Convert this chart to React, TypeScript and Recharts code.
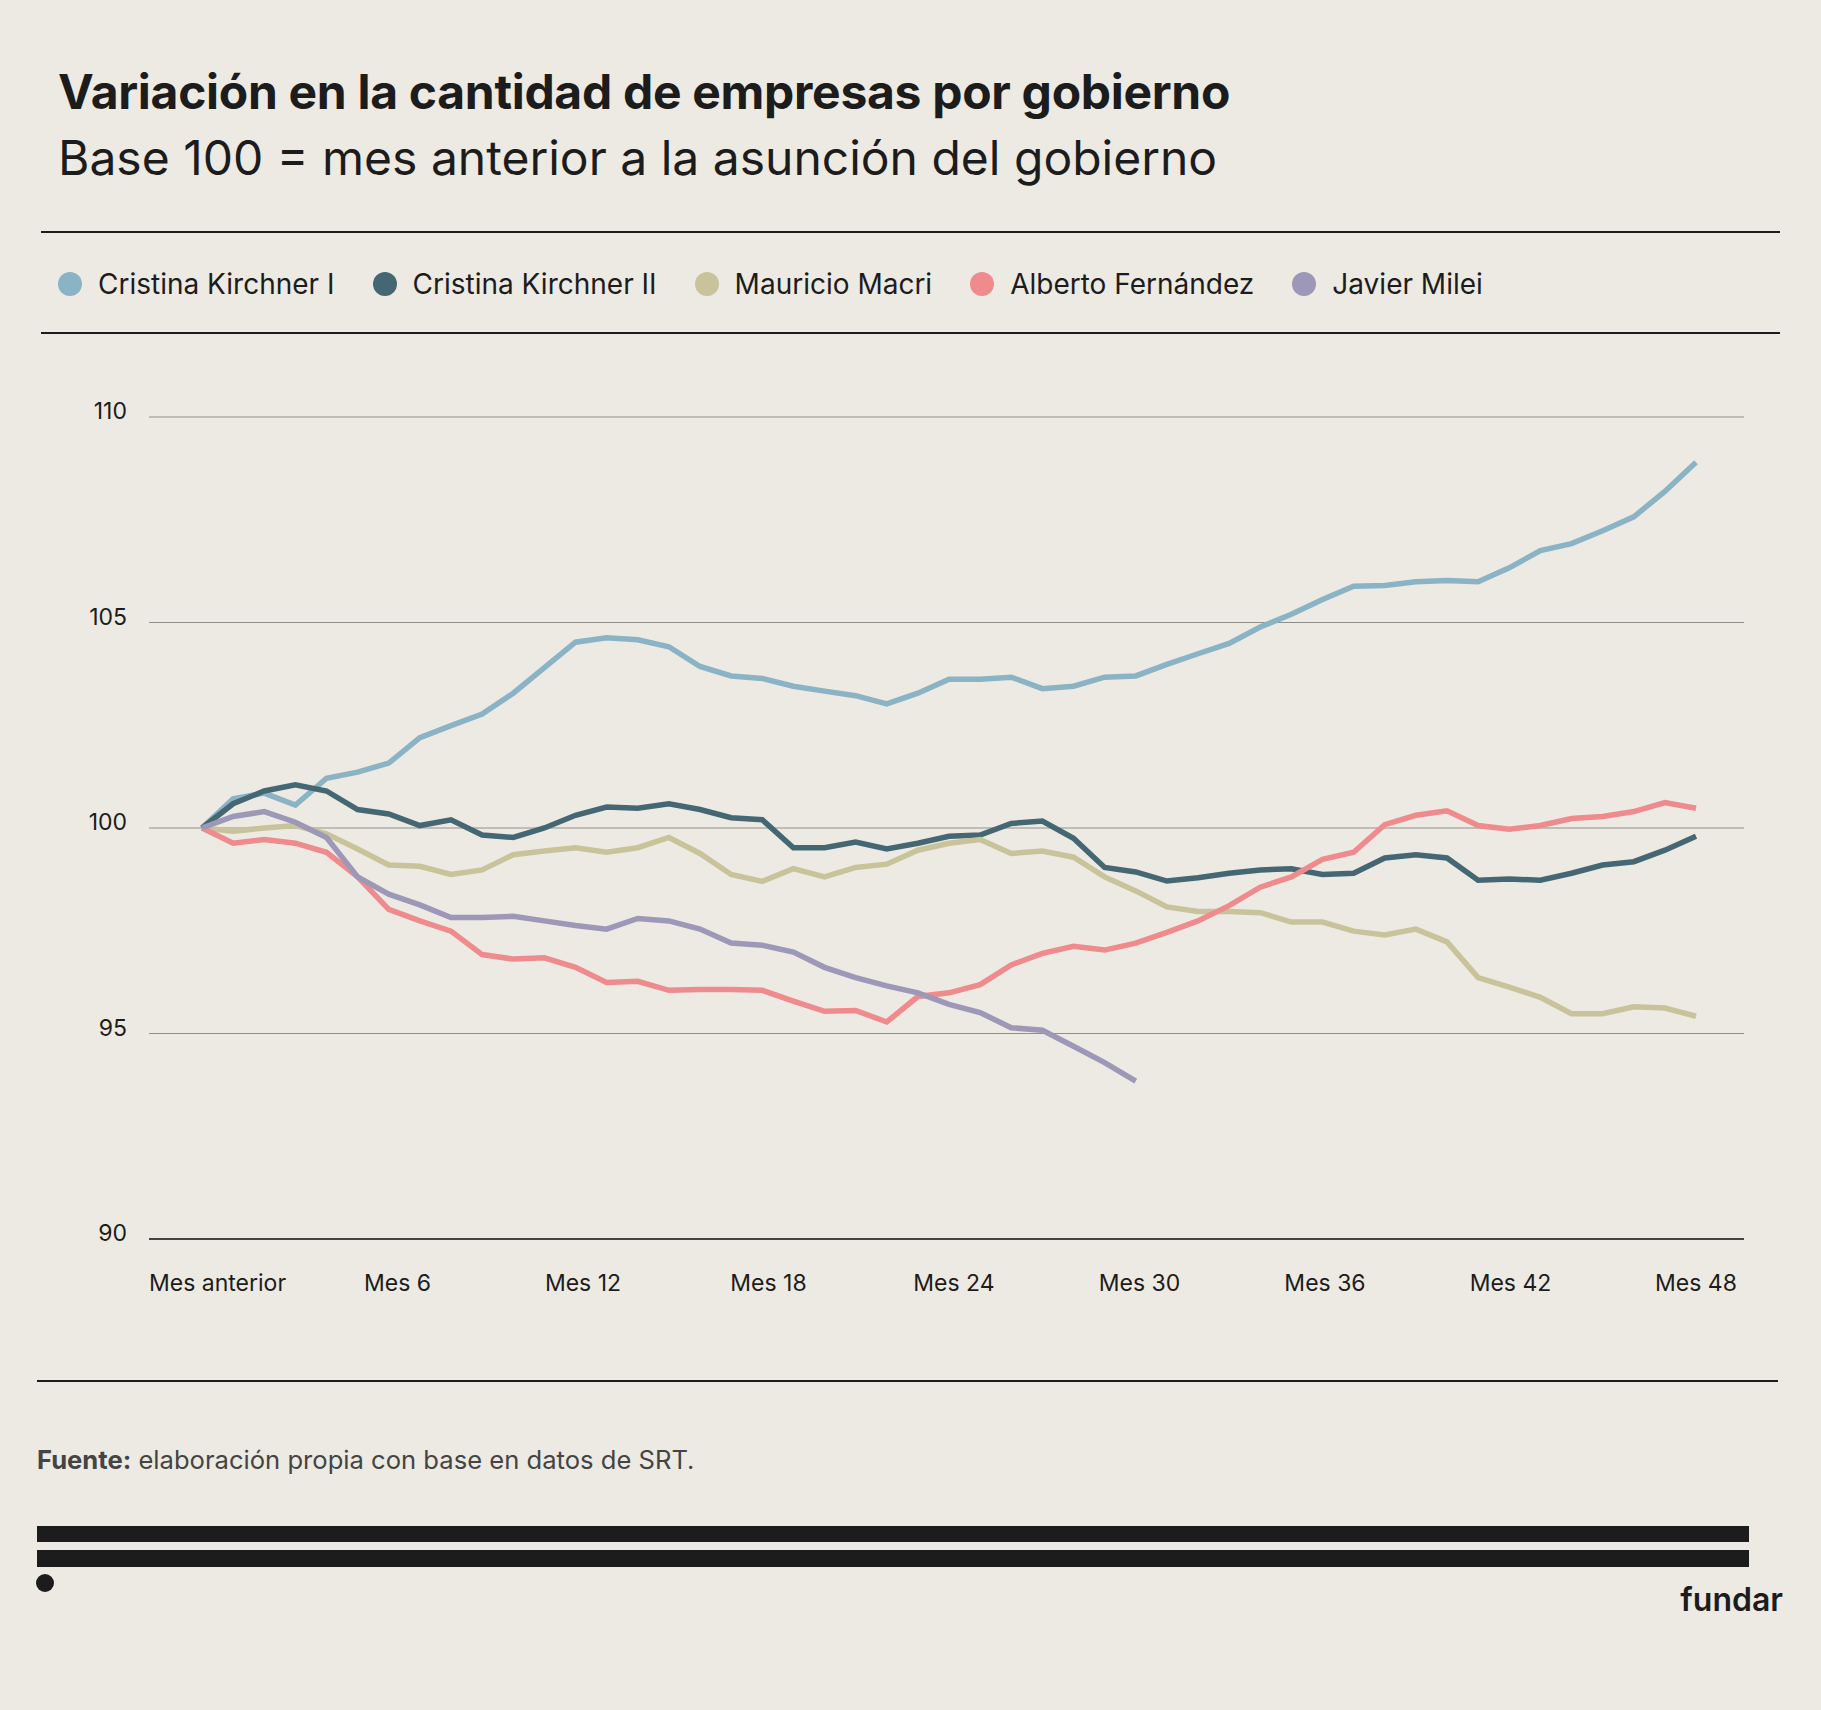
import { LineChart, Line, XAxis, YAxis, CartesianGrid, ReferenceLine } from "recharts"

const months = Array.from({ length: 49 }, (_, i) => i)

const ck1 = [100, 100.71, 100.85, 100.56, 101.21, 101.36, 101.58, 102.2, 102.49, 102.77, 103.28, 103.9, 104.52, 104.63, 104.58, 104.41, 103.93, 103.7, 103.64, 103.45, 103.33, 103.22, 103.02, 103.28, 103.62, 103.62, 103.67, 103.39, 103.45, 103.67, 103.7, 103.98, 104.24, 104.49, 104.89, 105.2, 105.56, 105.88, 105.9, 105.99, 106.02, 105.99, 106.33, 106.75, 106.92, 107.23, 107.57, 108.19, 108.9]
const ck2 = [100, 100.59, 100.9, 101.05, 100.9, 100.45, 100.34, 100.06, 100.2, 99.83, 99.77, 100.0, 100.31, 100.51, 100.48, 100.59, 100.45, 100.25, 100.2, 99.52, 99.52, 99.66, 99.49, 99.63, 99.8, 99.83, 100.11, 100.17, 99.75, 99.04, 98.93, 98.71, 98.79, 98.9, 98.98, 99.01, 98.87, 98.9, 99.27, 99.35, 99.27, 98.73, 98.76, 98.73, 98.9, 99.1, 99.18, 99.46, 99.8]
const macri = [100, 99.92, 100, 100.06, 99.86, 99.49, 99.1, 99.07, 98.87, 98.98, 99.35, 99.44, 99.52, 99.41, 99.52, 99.77, 99.38, 98.87, 98.7, 99.01, 98.81, 99.04, 99.12, 99.46, 99.63, 99.72, 99.38, 99.44, 99.29, 98.81, 98.47, 98.08, 97.97, 97.97, 97.94, 97.71, 97.71, 97.49, 97.4, 97.54, 97.23, 96.36, 96.13, 95.88, 95.48, 95.48, 95.65, 95.62, 95.42]
const alberto = [100, 99.63, 99.72, 99.63, 99.41, 98.81, 98.02, 97.74, 97.49, 96.92, 96.81, 96.84, 96.61, 96.24, 96.27, 96.05, 96.07, 96.07, 96.05, 95.79, 95.54, 95.56, 95.28, 95.9, 95.99, 96.19, 96.67, 96.95, 97.12, 97.03, 97.2, 97.46, 97.74, 98.11, 98.56, 98.81, 99.24, 99.41, 100.08, 100.31, 100.42, 100.06, 99.97, 100.06, 100.23, 100.28, 100.4, 100.62, 100.48]
const milei = [100, 100.28, 100.4, 100.14, 99.77, 98.81, 98.39, 98.13, 97.82, 97.82, 97.85, 97.74, 97.63, 97.54, 97.8, 97.74, 97.54, 97.2, 97.15, 96.98, 96.61, 96.36, 96.16, 95.99, 95.71, 95.51, 95.14, 95.08, 94.69, 94.29, 93.84]

const xTicks = [0, 6, 12, 18, 24, 30, 36, 42, 48]
const yTicks = [90, 95, 100, 105, 110]

const series = [
  { key: "ck1", name: "Cristina Kirchner I", color: "#8ab4c5", values: ck1 },
  { key: "ck2", name: "Cristina Kirchner II", color: "#456773", values: ck2 },
  { key: "macri", name: "Mauricio Macri", color: "#c8c39a", values: macri },
  { key: "alberto", name: "Alberto Fernández", color: "#ef8a8d", values: alberto },
  { key: "milei", name: "Javier Milei", color: "#9d98b8", values: milei },
]

const data = months.map((m) => {
  const row: any = { m }
  series.forEach((s) => {
    if (m < s.values.length) row[s.key] = s.values[m]
  })
  return row
})

const font = "Inter, 'Noto Sans', sans-serif"

const XTick = (props: any) => {
  const { x, y, payload } = props
  const first = payload.value === 0
  return (
    <text x={first ? 149 : x + 10 * (1 - payload.value / 48)} y={y + 44} textAnchor={first ? "start" : "middle"} fontSize={23} fill="#1c1c1c" fontFamily={font}>
      {first ? "Mes anterior" : `Mes ${payload.value}`}
    </text>
  )
}

const YTick = (props: any) => {
  const { y, payload } = props
  return (
    <text x={127} y={y + 2} textAnchor="end" fontSize={23} fill="#1c1c1c" fontFamily={font}>
      {payload.value}
    </text>
  )
}

export default function App() {
  return (
    <div style={{ position: "absolute", left: 0, top: 0, width: 1821, height: 1710, background: "#edeae3", fontFamily: font, color: "#1c1c1c" }}>
      <div style={{ position: "absolute", left: 58, top: 62, fontSize: 48, fontWeight: 700, letterSpacing: -0.3 }}>
        Variación en la cantidad de empresas por gobierno
      </div>
      <div style={{ position: "absolute", left: 58, top: 128, fontSize: 48, fontWeight: 400 }}>
        Base 100 = mes anterior a la asunción del gobierno
      </div>
      <div style={{ position: "absolute", left: 41, top: 231, width: 1739, height: 2, background: "#1c1c1c" }} />
      <div style={{ position: "absolute", left: 58, top: 267, display: "flex", alignItems: "center", fontSize: 28 }}>
        {series.map((s) => (
          <div key={s.key} style={{ display: "flex", alignItems: "center", marginRight: 38 }}>
            <span style={{ width: 24, height: 24, borderRadius: 12, background: s.color, display: "inline-block", marginRight: 16 }} />
            {s.name}
          </div>
        ))}
      </div>
      <div style={{ position: "absolute", left: 41, top: 332, width: 1739, height: 2, background: "#1c1c1c" }} />
      <div style={{ position: "absolute", left: 0, top: 380 }}>
        <LineChart width={1821} height={940} data={data} margin={{ top: 37, right: 77, left: 89, bottom: 31 }}>
          <CartesianGrid vertical={false} stroke="#8f8f8a" strokeWidth={1.2} />
          <XAxis dataKey="m" type="number" domain={[0, 48]} ticks={xTicks} tick={<XTick />} axisLine={false} tickLine={false} height={50} padding={{ left: 53, right: 48 }} />
          <YAxis domain={[90, 110]} ticks={yTicks} tick={<YTick />} axisLine={false} tickLine={false} width={60} />
          <ReferenceLine y={90} stroke="#1c1c1c" strokeWidth={1.5} />
          {series.map((s) => (
            <Line key={s.key} dataKey={s.key} stroke={s.color} strokeWidth={5.5} dot={false} type="linear" isAnimationActive={false} />
          ))}
        </LineChart>
      </div>
      <div style={{ position: "absolute", left: 37, top: 1380, width: 1741, height: 2, background: "#1c1c1c" }} />
      <div style={{ position: "absolute", left: 37, top: 1444, fontSize: 25.6, color: "#444" }}>
        <b>Fuente:</b> elaboración propia con base en datos de SRT.
      </div>
      <div style={{ position: "absolute", left: 37, top: 1526, width: 1712, height: 16, background: "#1c1c1c" }} />
      <div style={{ position: "absolute", left: 37, top: 1550, width: 1712, height: 17, background: "#1c1c1c" }} />
      <div style={{ position: "absolute", left: 36, top: 1574, width: 18, height: 18, borderRadius: 9, background: "#1c1c1c" }} />
      <div style={{ position: "absolute", right: 38, top: 1580, fontSize: 32, fontWeight: 600 }}>fundar</div>
    </div>
  )
}
